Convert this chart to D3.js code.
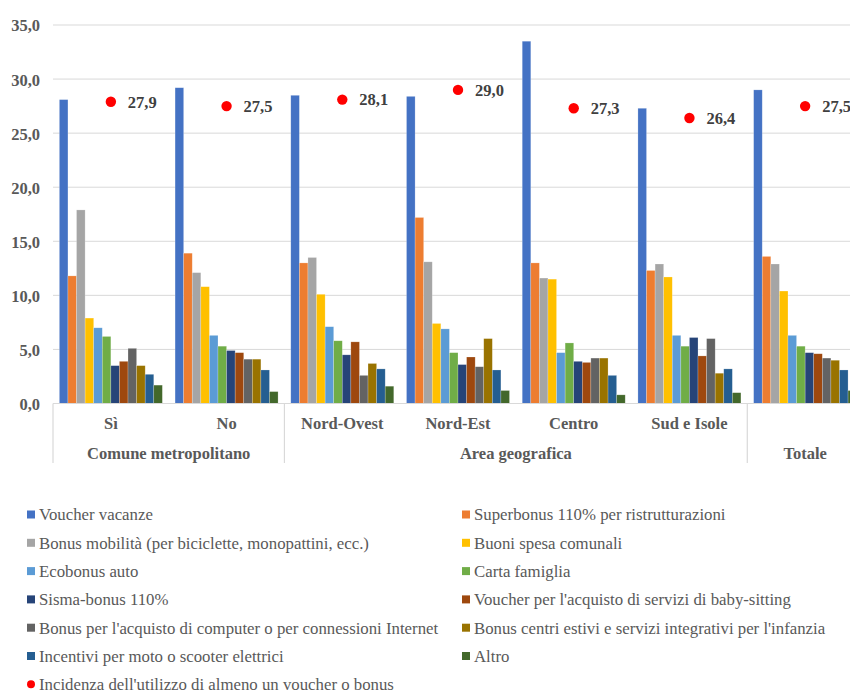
<!DOCTYPE html>
<html><head><meta charset="utf-8">
<script src="https://cdn.jsdelivr.net/npm/d3@7"></script>
</head><body style="margin:0"><svg id="c" width="850" height="695" style="font-family:'Liberation Serif','Times New Roman',Tinos,serif"></svg>
<script>
const categories = ["Sì","No","Nord-Ovest","Nord-Est","Centro","Sud e Isole","Totale"];
const groups = [
  {label:"Comune metropolitano", from:0, to:1},
  {label:"Area geografica", from:2, to:5},
  {label:"Totale", from:6, to:6}
];
const seriesNames = [
  "Voucher vacanze",
  "Superbonus 110% per ristrutturazioni",
  "Bonus mobilità (per biciclette, monopattini, ecc.)",
  "Buoni spesa comunali",
  "Ecobonus auto",
  "Carta famiglia",
  "Sisma-bonus 110%",
  "Voucher per l'acquisto di servizi di baby-sitting",
  "Bonus per l'acquisto di computer o per connessioni Internet",
  "Bonus centri estivi e servizi integrativi per l'infanzia",
  "Incentivi per moto o scooter elettrici",
  "Altro"
];
const seriesColors = ["#4472C4","#ED7D31","#A5A5A5","#FFC000","#5B9BD5","#70AD47","#264478","#9E480E","#636363","#997300","#255E91","#43682B"];
// values per series, across categories
const voucherVacanze   = [28.1, 29.2, 28.5, 28.4, 33.5, 27.3, 29.0];
const superbonus       = [11.8, 13.9, 13.0, 17.2, 13.0, 12.3, 13.6];
const bonusMobilita    = [17.9, 12.1, 13.5, 13.1, 11.6, 12.9, 12.9];
const buoniSpesa       = [ 7.9, 10.8, 10.1,  7.4, 11.5, 11.7, 10.4];
const ecobonusAuto     = [ 7.0,  6.3,  7.1,  6.9,  4.7,  6.3,  6.3];
const cartaFamiglia    = [ 6.2,  5.3,  5.8,  4.7,  5.6,  5.3,  5.3];
const sismaBonus       = [ 3.5,  4.9,  4.5,  3.6,  3.9,  6.1,  4.7];
const babySitting      = [ 3.9,  4.7,  5.7,  4.3,  3.8,  4.4,  4.6];
const bonusComputer    = [ 5.1,  4.1,  2.6,  3.4,  4.2,  6.0,  4.2];
const centriEstivi     = [ 3.5,  4.1,  3.7,  6.0,  4.2,  2.8,  4.0];
const motoScooter      = [ 2.7,  3.1,  3.2,  3.1,  2.6,  3.2,  3.1];
const altro            = [ 1.7,  1.1,  1.6,  1.2,  0.8,  1.0,  1.2];
const seriesValues = [voucherVacanze, superbonus, bonusMobilita, buoniSpesa, ecobonusAuto, cartaFamiglia,
  sismaBonus, babySitting, bonusComputer, centriEstivi, motoScooter, altro];
const incidenzaName = "Incidenza dell'utilizzo di almeno un voucher o bonus";
const incidenza = [27.9, 27.5, 28.1, 29.0, 27.3, 26.4, 27.5];
const yTicks = [0,5,10,15,20,25,30,35];

const fmt = v => d3.format(".1f")(v).replace(".", ",");
const svg = d3.select("#c");
const fontOf = () => '"Liberation Serif"';
const plotL = 53, plotR = 863, y0 = 403.5;

const x = d3.scaleBand().domain(categories).range([plotL, plotR]).paddingInner(0.11).paddingOuter(0.055);
const xs = d3.scaleBand().domain(d3.range(seriesNames.length)).range([0, x.bandwidth()]);
const y = d3.scaleLinear().domain([0,35]).range([y0, 25]);

// gridlines
svg.append("g").selectAll("line").data(yTicks.filter(d=>d>0)).join("line")
  .attr("x1", plotL).attr("x2", 850).attr("y1", d=>y(d)).attr("y2", d=>y(d))
  .attr("stroke", "#d9d9d9").attr("stroke-width", 1);

// y axis labels
const yAxis = d3.axisLeft(y).tickValues(yTicks).tickFormat(fmt).tickSize(0).tickPadding(0);
const ya = svg.append("g").attr("transform", `translate(40,0)`).call(yAxis);
ya.select(".domain").remove();
ya.attr("font-family", "Liberation Serif");
ya.selectAll("text").style("font-family", fontOf).attr("font-weight", "bold").attr("font-size", 16.5)
  .attr("fill", "#595959").attr("dy", "0.36em");

// bars
const gCat = svg.append("g").selectAll("g").data(categories).join("g")
  .attr("transform", d=>`translate(${x(d)},0)`);
gCat.selectAll("rect").data((c,ci)=>seriesValues.map((s,si)=>({si, v:s[ci]}))).join("rect")
  .attr("x", d=>xs(d.si)).attr("width", xs.bandwidth())
  .attr("y", d=>y(d.v)).attr("height", d=>y0 - y(d.v))
  .attr("fill", d=>seriesColors[d.si])
  .attr("stroke", "#ffffff").attr("stroke-opacity", 0.35).attr("stroke-width", 0.6);

// x axis baseline
svg.append("line").attr("x1", plotL).attr("x2", 850).attr("y1", y0).attr("y2", y0)
  .attr("stroke", "#d9d9d9").attr("stroke-width", 1.2);

// group dividers
const dividerX = [plotL, x(categories[2]) - x.step()*x.paddingInner()/2, x(categories[6]) - x.step()*x.paddingInner()/2];
svg.append("g").selectAll("line").data(dividerX).join("line")
  .attr("x1", d=>d).attr("x2", d=>d).attr("y1", y0).attr("y2", 463)
  .attr("stroke", "#d9d9d9").attr("stroke-width", 1.2);

// category labels
svg.append("g").selectAll("text").data(categories.slice(0,6)).join("text")
  .attr("x", d=>x(d)+x.bandwidth()/2).attr("y", 429).attr("text-anchor","middle")
  .style("font-family", fontOf).attr("font-weight","bold").attr("font-size", 16.5).attr("fill","#595959")
  .text(d=>d);
// group labels
svg.append("g").selectAll("text").data(groups).join("text")
  .attr("x", g=>(x(categories[g.from]) + x(categories[g.to]) + x.bandwidth())/2)
  .attr("y", 459).attr("text-anchor","middle")
  .style("font-family", fontOf).attr("font-weight","bold").attr("font-size", 16.5).attr("fill","#595959")
  .text(g=>g.label);

// incidence dots + labels
const cx = d => x(d) + x.bandwidth()/2;
svg.append("g").selectAll("circle").data(categories).join("circle")
  .attr("cx", d=>cx(d)).attr("cy", (d,i)=>y(incidenza[i])).attr("r", 5.2).attr("fill", "#FF0000");
svg.append("g").selectAll("text").data(categories).join("text")
  .attr("x", d=>cx(d)+17).attr("y", (d,i)=>y(incidenza[i])).attr("dy","0.35em")
  .style("font-family", fontOf).attr("font-weight","bold").attr("font-size", 16.5).attr("fill","#404040")
  .text((d,i)=>fmt(incidenza[i]));

// legend
const legendItems = seriesNames.map((n,i)=>({name:n, color:seriesColors[i], type:"rect"}));
legendItems.push({name: incidenzaName, color:"#FF0000", type:"dot"});
const rowH = 28.3, legTop = 514.5;
const leg = svg.append("g").selectAll("g").data(legendItems).join("g")
  .attr("transform", (d,i)=>`translate(${i%2===0 ? 27 : 462},${legTop + Math.floor(i/2)*rowH})`);
leg.filter(d=>d.type==="rect").append("rect").attr("x",0).attr("y",-4).attr("width",8).attr("height",8)
  .attr("fill", d=>d.color);
leg.filter(d=>d.type==="dot").append("circle").attr("cx",4).attr("cy",0).attr("r",4).attr("fill", d=>d.color);
leg.append("text").attr("x", 12).attr("y", 0).attr("dy","0.35em")
  .style("font-family", fontOf).attr("font-size", 16.8).attr("fill", "#595959").text(d=>d.name);
</script>
</body></html>
